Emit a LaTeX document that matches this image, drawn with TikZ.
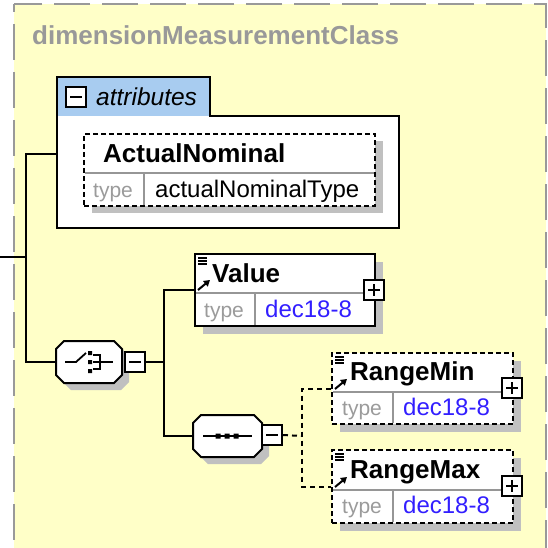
\documentclass[tikz,border=0pt]{standalone}
\usepackage{fontspec}
\setmainfont{Liberation Sans}
\usetikzlibrary{arrows.meta}
\definecolor{bg}{RGB}{255,255,200}
\definecolor{tabblue}{RGB}{168,204,240}
\definecolor{shadowc}{RGB}{192,192,192}
\definecolor{titlegray}{RGB}{153,153,153}
\definecolor{typegray}{RGB}{155,155,155}
\definecolor{sepgray}{RGB}{150,150,150}
\definecolor{linkblue}{RGB}{50,30,255}
\newcommand\octshape[4]{%
  \fill[shadowc] (#1+15,#2+7) -- (#3-1,#2+7) -- (#3+7,#2+15) -- (#3+7,#4-1) -- (#3-1,#4+7) -- (#1+15,#4+7) -- (#1+7,#4-1) -- (#1+7,#2+15) -- cycle;
  \filldraw[fill=white, draw=black, line width=2pt] (#1+8,#2) -- (#3-8,#2) -- (#3,#2+8) -- (#3,#4-8) -- (#3-8,#4) -- (#1+8,#4) -- (#1,#4-8) -- (#1,#2+8) -- cycle;}
\newcommand\elemicons[3]{% left, top, separator y
  \draw[line width=1.3pt] (#1+3,#2+4) -- (#1+12,#2+4) (#1+3,#2+7) -- (#1+12,#2+7) (#1+3,#2+10) -- (#1+12,#2+10);
  \draw[line width=2pt, -{Triangle[length=6pt,width=7pt]}] (#1+3,#3-3) -- (#1+15,#3-13);}
\begin{document}
\begin{tikzpicture}[x=1pt,y=-1pt]
\tikzset{
  conn/.style={line width=2pt, draw=black},
  dconn/.style={conn, dash pattern=on 5pt off 4pt},
  ebox/.style={rectangle, draw=black, fill=white, line width=2pt, inner sep=0pt},
  optbox/.style={ebox, dash pattern=on 5pt off 3pt},
  sepline/.style={draw=sepgray, line width=1.5pt},
  pmbox/.style={rectangle, draw=black, fill=white, line width=2pt, minimum size=20pt, inner sep=0pt},
  pmsign/.style={line width=2pt},
  holder/.style={rectangle, draw=none, inner sep=0pt},
  nametxt/.style={anchor=base west, inner sep=0pt, font=\fontsize{26}{30}\selectfont\bfseries},
  typetxt/.style={anchor=base west, inner sep=0pt, text=typegray, font=\fontsize{21}{25}\selectfont},
  valtxt/.style={anchor=base west, inner sep=0pt, font=\fontsize{24}{28}\selectfont},
}
% canvas
\fill[white] (0,0) rectangle (548,548);
\useasboundingbox (0,0) rectangle (548,548);
\begin{scope}
\clip (0,0) rectangle (548,548);
\filldraw[fill=bg, draw=titlegray, line width=2.5pt, dash pattern=on 36pt off 12pt, dash phase=28pt] (14,4) rectangle (546,600);
\end{scope}
\node[anchor=base west, inner sep=0pt, text=titlegray, font=\fontsize{26}{30}\selectfont\bfseries] (title) at (32,45) {dimensionMeasurementClass};

% connector junctions
\coordinate (start) at (0,257);
\coordinate (j1) at (26,257);
\coordinate (attrin) at (57,154);
\coordinate (j2) at (164,362);
\coordinate (j3) at (302,436);

% attributes group
\fill[tabblue] (57,77) rectangle (210,116);
\fill[white] (57,116) rectangle (399,228);
\node[holder, minimum width=342, minimum height=151] (attrgroup) at (228,152.5) {};
\draw[line width=2pt] (57,77) -- (210,77) -- (210,116) -- (399,116) -- (399,228) -- (57,228) -- cycle;
\node[pmbox, minimum size=20pt] (attrm) at (76,97) {};
\draw[pmsign] (70,97) -- (82,97);
\node[anchor=base west, inner sep=0pt, font=\fontsize{24.5}{28}\selectfont\itshape] (attrlbl) at (96,106) {attributes};

% ActualNominal
\fill[shadowc] (92,141) rectangle (383,213);
\node[optbox, minimum width=291, minimum height=72] (actual) at (229.5,170) {};
\draw[sepline] (85,173) -- (374,173) (144,173) -- (144,205);
\node[nametxt] (actualname) at (103,162) {ActualNominal};
\node[typetxt] (actualtype) at (93,197) {type};
\node[valtxt] (actualval) at (155,197) {actualNominalType};

% left connectors
\draw[conn] (start) -- (j1);
\draw[conn] (attrin) -| (j1);

% choice
\octshape{56}{341}{122}{383}
\node[holder, minimum width=66, minimum height=42] (choice) at (89,362) {};
\draw[conn] (j1) |- (choice.west);
\draw[line width=1.8pt] (65,362) -- (76,362) -- (86,353);
\fill (88,351) rectangle (92,355) (88,360) rectangle (92,364) (88,369) rectangle (92,373);
\draw[line width=1.5pt] (93,355) -- (100,355) -- (100,369) -- (93,369) (93,362) -- (113,362);
\node[pmbox] (chm) at (135,362) {};
\draw[pmsign] (129,362) -- (141,362);

% Value
\fill[shadowc] (203,262) rectangle (383,334);
\node[ebox, minimum width=180, minimum height=72] (value) at (285,290) {};
\draw[sepline] (196,293) -- (374,293) (255,293) -- (255,325);
\elemicons{195}{254}{293}
\node[nametxt] (valuename) at (212,282) {Value};
\node[typetxt] (valuetype) at (204,317) {type};
\node[valtxt, text=linkblue] (valueval) at (265,317) {dec18-8};
\node[pmbox] (valuep) at (374,290) {};
\draw[pmsign] (368,290) -- (380,290) (374,284) -- (374,296);

% sequence
\octshape{193}{415}{262}{457}
\node[holder, minimum width=69, minimum height=42] (seq) at (227.5,436) {};
\draw[line width=1.5pt] (203,436) -- (252,436);
\fill (215.5,433.5) rectangle (220.5,438.5) (224.5,433.5) rectangle (229.5,438.5) (233.5,433.5) rectangle (238.5,438.5);
\node[pmbox] (seqm) at (272,435) {};
\draw[pmsign] (266,435) -- (278,435);

\draw[conn] (chm.east) -- (j2);
\draw[conn] (value.west) -| (j2) |- (seq.west);

% RangeMin
\fill[shadowc] (340,361) rectangle (521,432);
\node[optbox, minimum width=181, minimum height=71] (rmin) at (422.5,388.5) {};
\draw[sepline] (333,392) -- (512,392) (393,392) -- (393,423);
\elemicons{332}{353}{392}
\node[nametxt] (rminname) at (350,380) {RangeMin};
\node[typetxt] (rmintype) at (342,415) {type};
\node[valtxt, text=linkblue] (rminval) at (403,415) {dec18-8};
\node[pmbox] (rminp) at (512,388) {};
\draw[pmsign] (506,388) -- (518,388) (512,382) -- (512,394);

% RangeMax
\fill[shadowc] (340,458) rectangle (521,531);
\node[optbox, minimum width=181, minimum height=73] (rmax) at (422.5,486.5) {};
\draw[sepline] (333,490) -- (512,490) (393,490) -- (393,522);
\elemicons{332}{450}{490}
\node[nametxt] (rmaxname) at (350,478) {RangeMax};
\node[typetxt] (rmaxtype) at (342,513) {type};
\node[valtxt, text=linkblue] (rmaxval) at (403,513) {dec18-8};
\node[pmbox] (rmaxp) at (512,486) {};
\draw[pmsign] (506,486) -- (518,486) (512,480) -- (512,492);

\draw[dconn] (seqm.east) -- (j3);
\draw[dconn] (rmin.west) -| (j3) |- (rmax.west);
\end{tikzpicture}
\end{document}
